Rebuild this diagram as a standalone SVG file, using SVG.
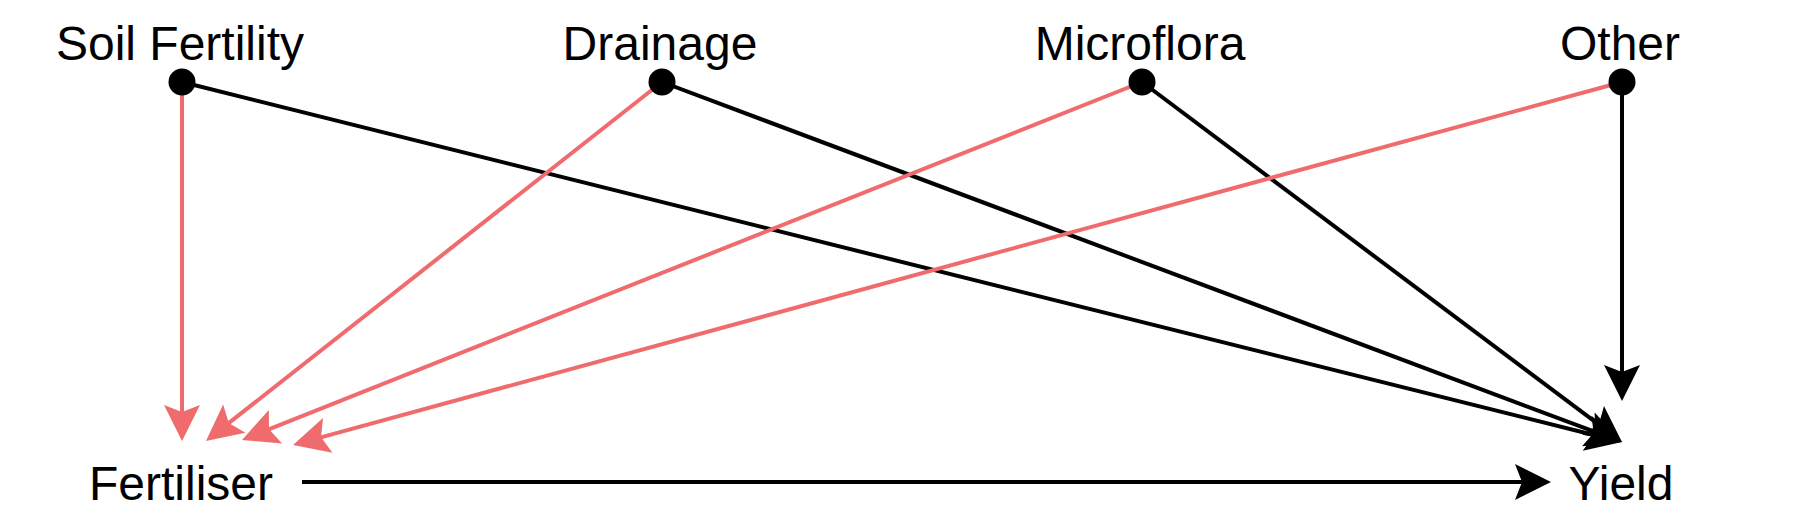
<svg xmlns="http://www.w3.org/2000/svg" width="1804" height="524" viewBox="0 0 1804 524">
<style>
.lbl{font-family:"Liberation Sans",Arial,Helvetica,sans-serif;font-size:48px;fill:#000;text-anchor:middle}
.dot{fill:#000}
.blk{stroke:#000;stroke-width:4;fill:none;marker-end:url(#ab)}
.red{stroke:#EF6B6D;stroke-width:4;fill:none;marker-end:url(#ar)}
</style>
<defs>
<marker id="ab" markerUnits="userSpaceOnUse" markerWidth="40" markerHeight="40" viewBox="0 -20 40 40" refX="10" refY="0" orient="auto" overflow="visible">
<path d="M0,-18 L36,0 L0,18 L7,0 Z" fill="#000"/>
</marker>
<marker id="ar" markerUnits="userSpaceOnUse" markerWidth="40" markerHeight="40" viewBox="0 -20 40 40" refX="10" refY="0" orient="auto" overflow="visible">
<path d="M0,-18 L36,0 L0,18 L7,0 Z" fill="#EF6B6D"/>
</marker>
</defs>
<rect width="1804" height="524" fill="#fff"/>
<g id="connectors">
<line class="red" x1="182" y1="82" x2="182" y2="415"/>
<line class="blk" x1="182" y1="82" x2="1596.8" y2="435.7"/>
<line class="red" x1="662" y1="82" x2="226.4" y2="424.9"/>
<line class="blk" x1="662" y1="82" x2="1597.7" y2="432.9"/>
<line class="red" x1="1142" y1="82" x2="266.2" y2="430.4"/>
<line class="blk" x1="1142" y1="82" x2="1601.2" y2="426.4"/>
<line class="red" x1="1622" y1="82" x2="318.1" y2="438.1"/>
<line class="blk" x1="1622" y1="82" x2="1622" y2="375"/>
<line class="blk" x1="302" y1="482" x2="1525" y2="482"/>
</g>
<g id="soil-fertility">
<text class="lbl" x="180" y="60">Soil Fertility</text>
<circle class="dot" cx="182" cy="82" r="13.5"/>
</g>
<g id="drainage">
<text class="lbl" x="660" y="60">Drainage</text>
<circle class="dot" cx="662" cy="82" r="13.5"/>
</g>
<g id="microflora">
<text class="lbl" x="1140" y="60">Microflora</text>
<circle class="dot" cx="1142" cy="82" r="13.5"/>
</g>
<g id="other">
<text class="lbl" x="1620" y="60">Other</text>
<circle class="dot" cx="1622" cy="82" r="13.5"/>
</g>
<g id="fertiliser">
<text class="lbl" x="181" y="500">Fertiliser</text>
</g>
<g id="yield">
<text class="lbl" x="1621" y="500">Yield</text>
</g>
</svg>
